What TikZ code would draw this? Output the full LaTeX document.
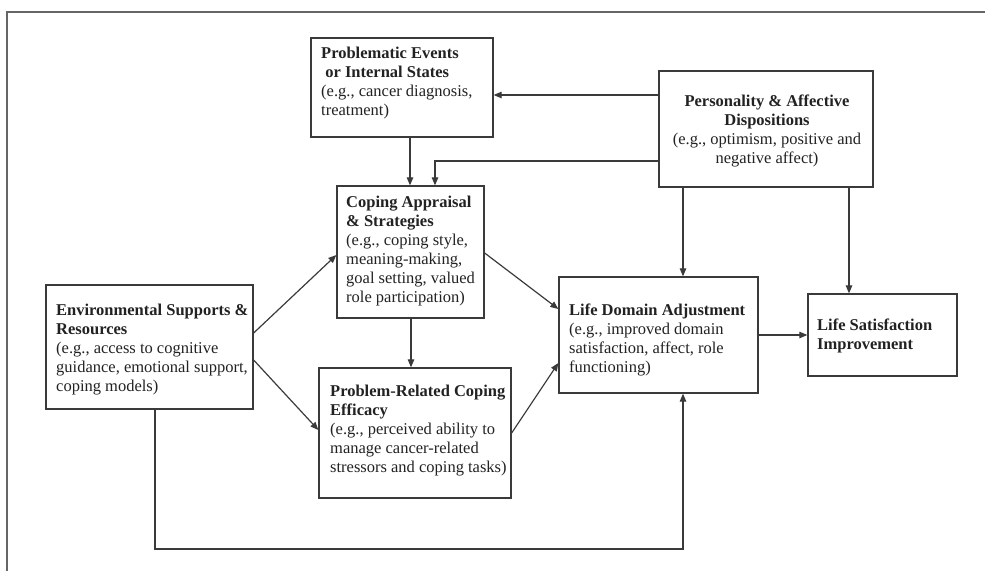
\documentclass[tikz,border=0pt]{standalone}
\usepackage{fontspec}
\setmainfont{Liberation Serif}
\usetikzlibrary{arrows.meta}
\definecolor{linec}{HTML}{3A3A3A}
\definecolor{textc}{HTML}{222222}
\begin{document}
\begin{tikzpicture}[x=1pt,y=-1pt,
  box/.style={draw=linec,line width=1.3pt,rectangle,inner sep=0pt,fill=white},
  txt/.style={inner sep=0pt,anchor=north west,align=left,text=textc,
    font=\fontsize{16.5}{19}\selectfont},
  arr/.style={draw=linec,line width=1.2pt,-{Triangle[length=8pt,width=6.5pt]}},
  ln/.style={draw=linec,line width=1.2pt}]
\useasboundingbox (0,0) rectangle (985,571);
% outer frame (open right and bottom)
\draw[draw=gray!80!black,line width=1.3pt] (985,12) -- (7,12) -- (7,571);
% boxes
\node[box,minimum width=182pt,minimum height=99pt]  (pe)  at (402,87.5) {};
\node[box,minimum width=214pt,minimum height=116pt] (pa)  at (766,129) {};
\node[box,minimum width=147pt,minimum height=132pt] (ca)  at (410.5,252) {};
\node[box,minimum width=207pt,minimum height=124pt] (es)  at (149.5,347) {};
\node[box,minimum width=192pt,minimum height=130pt] (prc) at (415,433) {};
\node[box,minimum width=199pt,minimum height=116pt] (lda) at (658.5,335) {};
\node[box,minimum width=149pt,minimum height=82pt]  (ls)  at (882.5,335) {};
% texts
\node[txt] (tpe) at (321,45) {\strut\textbf{Problematic Events}\\\textbf{\ or Internal States}\\(e.g., cancer diagnosis,\\treatment)};
\node[txt,anchor=north,align=center] (tpa) at (767,93) {\strut\textbf{Personality \& Affective}\\\textbf{Dispositions}\\(e.g., optimism, positive and\\negative affect)};
\node[txt] (tca) at (346,194) {\strut\textbf{Coping Appraisal}\\\textbf{\& Strategies}\\(e.g., coping style,\\meaning-making,\\goal setting, valued\\role participation)};
\node[txt] (tes) at (56,302) {\strut\textbf{Environmental Supports \&}\\\textbf{Resources}\\(e.g., access to cognitive\\guidance, emotional support,\\coping models)};
\node[txt] (tprc) at (330,383) {\strut\textbf{Problem-Related Coping}\\\textbf{Efficacy}\\(e.g., perceived ability to\\manage cancer-related\\stressors and coping tasks)};
\node[txt] (tlda) at (569,302) {\strut\textbf{Life Domain Adjustment}\\(e.g., improved domain\\satisfaction, affect, role\\functioning)};
\node[txt] (tls) at (817,317) {\strut\textbf{Life Satisfaction}\\\textbf{Improvement}};
% connectors
\draw[arr] (pa.west |- 0,95) -- (pe.east |- 0,95);
\draw[arr] (pa.west |- 0,161) -| (ca.north -| 435,0);
\draw[arr] (pe.south -| 410,0) -- (ca.north -| 410,0);
\draw[arr] (es.east |- 0,333) -- (ca.west |- 0,255);
\draw[arr] (es.east |- 0,360) -- (prc.west |- 0,430);
\draw[arr] (ca.south -| 411,0) -- (prc.north -| 411,0);
\draw[arr] (ca.east |- 0,253) -- (lda.west |- 0,309);
\draw[arr] (prc.east |- 0,433) -- (lda.west |- 0,363);
\draw[arr] (pa.south -| 683,0) -- (lda.north -| 683,0);
\draw[arr] (pa.south -| 849,0) -- (ls.north -| 849,0);
\draw[arr] (lda.east |- 0,335) -- (ls.west |- 0,335);
\coordinate (corner) at (155,549);
\draw[arr] (es.south -| corner) -- (corner) -| (lda.south -| 683,0);
\end{tikzpicture}
\end{document}
